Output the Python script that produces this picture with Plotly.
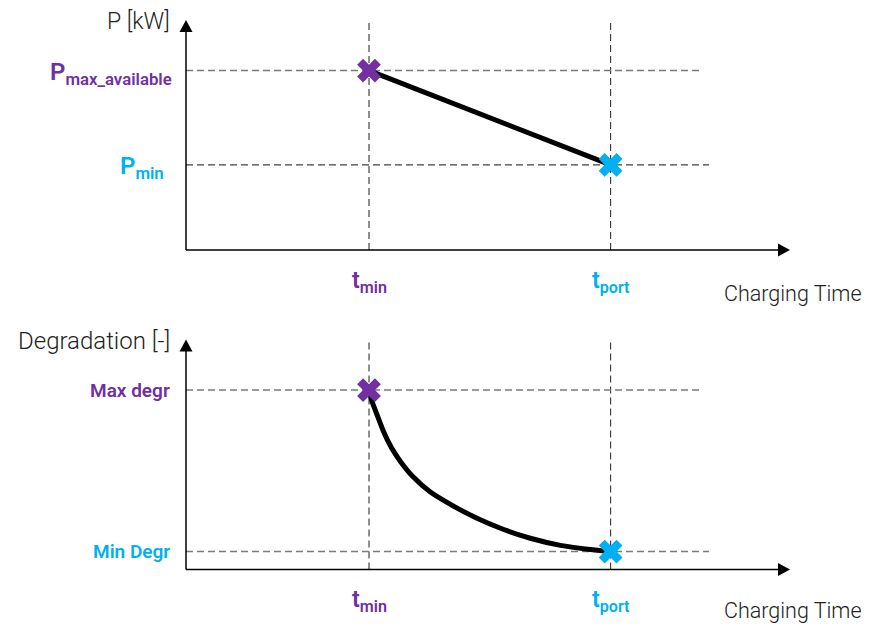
import plotly.graph_objects as go

# ---------------- data ----------------
t_labels = ["t<sub>min</sub>", "t<sub>port</sub>"]
t_values = [3.03, 7.03]

power_labels = ["P<sub>max_available</sub>", "P<sub>min</sub>"]
power_values = [7.8, 3.7]

degr_labels = ["Max degr", "Min Degr"]
degr_values = [7.8, 0.78]

curve_t = [3.03, 3.08, 3.16, 3.27, 3.40, 3.55, 3.76, 4.04, 4.40, 4.80, 5.25, 5.70, 6.20, 6.65, 7.03]
curve_degr = [7.80, 7.30, 6.75, 6.00, 5.30, 4.70, 4.03, 3.38, 2.80, 2.25, 1.75, 1.36, 1.05, 0.88, 0.78]

axis_titles_y = ["P [kW]", "Degradation [-]"]
axis_title_x = "Charging Time"
point_colors = ["#7030A0", "#00B0F0"]

# ---------------- layout helpers ----------------
# the page body has an 8px margin; the figure sits inside it
OFF = 8
W, H = 872 - 2 * OFF, 626 - OFF
FONT = "Roboto"
TXT = "#222222"
PAD = 10  # pixel padding around each plotting area so axis arrows are not clipped


def px_x(p):
    return (p - OFF) / W


def px_y(p):
    return (OFF + H - p) / H


X0, X1 = 186, 790          # pixel extent of both x axes (data 0..10)
XR = [0, 10]
YR = [0, 10]
PANELS = [("x", "y", 250, 20), ("x2", "y2", 569.5, 339.5)]  # y pixel of data 0 and 10
ux = (XR[1] - XR[0]) / (X1 - X0)

fig = go.Figure()


def line_trace(xs, ys, xr, yr, color, width, dash=None):
    fig.add_trace(go.Scatter(x=xs, y=ys, mode="lines", xaxis=xr, yaxis=yr,
                             line=dict(color=color, width=width, dash=dash),
                             hoverinfo="skip", showlegend=False))


h_ends = [8.5, 8.66]
layout_axes = {}
for i, ((xr, yr, yb, yt), vals, hcolors, hwidths) in enumerate(zip(
        PANELS, [power_values, degr_values],
        [["#7a7a7a", "#404040"], ["#7a7a7a", "#7a7a7a"]], [[1.5, 1.1], [1.5, 1.5]])):
    uy = (YR[1] - YR[0]) / (yb - yt)
    sfx = "" if i == 0 else "2"
    ax_common = dict(showgrid=False, zeroline=False, showticklabels=False, showline=False,
                     ticks="", fixedrange=True)
    layout_axes["xaxis" + sfx] = dict(domain=[px_x(X0 - PAD), px_x(X1 + PAD)],
                                      range=[XR[0] - PAD * ux, XR[1] + PAD * ux],
                                      anchor="y" + sfx, **ax_common)
    layout_axes["yaxis" + sfx] = dict(domain=[px_y(yb + PAD), px_y(yt - PAD)],
                                      range=[YR[0] - PAD * uy, YR[1] + PAD * uy],
                                      anchor="x" + sfx, **ax_common)
    # vertical dashed lines at t_min / t_port
    for tv in t_values:
        line_trace([tv, tv], [YR[0], YR[1]], xr, yr, "#333333", 1.1, "7px,4px")
    # horizontal dashed reference lines
    for v, e, c, w in zip(vals, h_ends, hcolors, hwidths):
        line_trace([XR[0], e], [v, v], xr, yr, c, w, "7px,4px")
    # axis lines
    head_len, head_half = 12, 6.5
    line_trace([XR[0], XR[1] - head_len * ux / 2], [YR[0], YR[0]], xr, yr, "black", 1.5)
    line_trace([XR[0], XR[0]], [YR[0], YR[1] - head_len * uy / 2], xr, yr, "black", 1.5)
    # arrow heads (filled triangles)
    fig.add_trace(go.Scatter(
        x=[XR[1], XR[1] - head_len * ux, XR[1] - head_len * ux, XR[1]],
        y=[YR[0], YR[0] + head_half * uy, YR[0] - head_half * uy, YR[0]],
        mode="lines", fill="toself", fillcolor="black", line=dict(width=0, color="black"),
        xaxis=xr, yaxis=yr, hoverinfo="skip", showlegend=False))
    fig.add_trace(go.Scatter(
        x=[XR[0], XR[0] - head_half * ux, XR[0] + head_half * ux, XR[0]],
        y=[YR[1], YR[1] - head_len * uy, YR[1] - head_len * uy, YR[1]],
        mode="lines", fill="toself", fillcolor="black", line=dict(width=0, color="black"),
        xaxis=xr, yaxis=yr, hoverinfo="skip", showlegend=False))

# top panel: power
line_trace(t_values, power_values, "x", "y", "black", 5)
fig.add_trace(go.Scatter(x=t_values, y=power_values, mode="markers",
                         marker=dict(symbol="x", size=21, color=point_colors, line=dict(width=0)),
                         xaxis="x", yaxis="y", hoverinfo="skip", showlegend=False))

# bottom panel: degradation
fig.add_trace(go.Scatter(x=curve_t, y=curve_degr, mode="lines",
                         line=dict(color="black", width=5, shape="spline", smoothing=0.5),
                         xaxis="x2", yaxis="y2", hoverinfo="skip", showlegend=False))
fig.add_trace(go.Scatter(x=t_values, y=degr_values, mode="markers",
                         marker=dict(symbol="x", size=21, color=point_colors, line=dict(width=0)),
                         xaxis="x2", yaxis="y2", hoverinfo="skip", showlegend=False))

fig.update_layout(
    width=W, height=H,
    margin=dict(l=0, r=0, t=0, b=0),
    paper_bgcolor="white", plot_bgcolor="white",
    showlegend=False,
    **layout_axes,
)

annotations = []
# y axis titles
for title, ypx, fs in zip(axis_titles_y, [21, 341], [23, 24]):
    annotations.append(dict(xref="paper", yref="paper", x=px_x(172), y=px_y(ypx),
                            xanchor="right", yanchor="middle", text=title, showarrow=False,
                            font=dict(family=FONT, size=fs, color=TXT, weight=300)))
# x axis titles
for ypx in [293, 610]:
    annotations.append(dict(xref="paper", yref="paper", x=px_x(722), y=px_y(ypx),
                            xanchor="left", yanchor="middle", text=axis_title_x, showarrow=False,
                            font=dict(family=FONT, size=21.5, color=TXT, weight=300)))

# power value labels
for lab, v, c, xe in zip(power_labels, power_values, point_colors, [174, 166]):
    annotations.append(dict(xref="paper", yref="y", x=px_x(xe), y=v, yshift=-3,
                            xanchor="right", yanchor="middle", text=lab, showarrow=False,
                            font=dict(family=FONT, size=24, color=c, weight=600)))
# degradation value labels
for lab, v, c in zip(degr_labels, degr_values, point_colors):
    annotations.append(dict(xref="paper", yref="y2", x=px_x(172), y=v,
                            xanchor="right", yanchor="middle", text=lab, showarrow=False,
                            font=dict(family=FONT, size=19, color=c, weight=600)))
# time labels under both panels
for xr, ypx in [("x", 282), ("x2", 601)]:
    for lab, tv, c in zip(t_labels, t_values, point_colors):
        annotations.append(dict(xref=xr, yref="paper", x=tv, y=px_y(ypx),
                                xanchor="center", yanchor="middle", text=lab, showarrow=False,
                                font=dict(family=FONT, size=23, color=c, weight=600)))

fig.update_layout(annotations=annotations)
fig.write_html("out.html")
